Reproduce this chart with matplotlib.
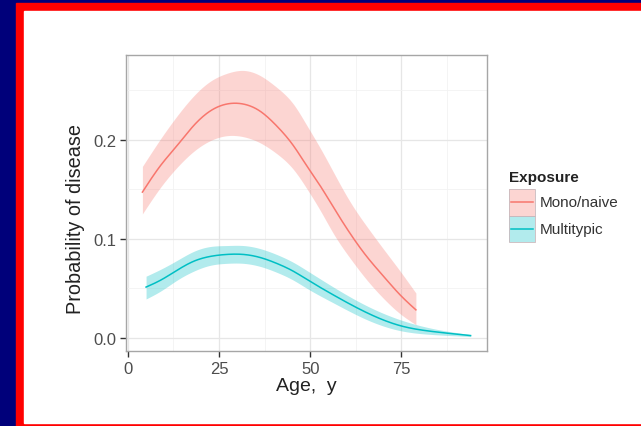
import matplotlib
matplotlib.use("Agg")
import matplotlib.pyplot as plt
import numpy as np
from matplotlib.patches import Rectangle
from matplotlib.lines import Line2D

plt.rcParams['font.family'] = ['Liberation Sans', 'DejaVu Sans']

# Mono/naive series
mono_age = [4, 9, 13.5, 18, 22.6, 27.1, 31.7, 36.2, 40.8, 45.4, 49, 53, 56, 61, 65.5, 70.1, 74.7, 79]
mono_mean = [0.147, 0.174, 0.194, 0.214, 0.229, 0.236, 0.236, 0.229, 0.214, 0.194, 0.174, 0.152, 0.134, 0.105, 0.082, 0.062, 0.043, 0.028]
mono_upper_age = [4, 9, 13.5, 18, 22.6, 27.1, 31.7, 36.2, 40.8, 45.4, 49, 53, 57, 61, 65.6, 70, 74.7, 79]
mono_upper = [0.173, 0.201, 0.224, 0.244, 0.259, 0.267, 0.270, 0.265, 0.253, 0.236, 0.215, 0.190, 0.163, 0.137, 0.112, 0.090, 0.067, 0.045]
mono_lower_age = [4, 9, 13.5, 18, 22.6, 27.1, 31.7, 36.2, 40.8, 45.4, 49, 53, 56.4, 61, 65.6, 70, 74.7, 79]
mono_lower = [0.125, 0.152, 0.172, 0.188, 0.199, 0.204, 0.203, 0.197, 0.186, 0.170, 0.151, 0.127, 0.105, 0.080, 0.058, 0.040, 0.024, 0.013]

# Multitypic series
multi_age = [5, 9, 13.5, 18, 22.6, 27.1, 31.7, 36.2, 40.8, 45.4, 49, 56.4, 65.6, 74.7, 83.8, 94]
multi_mean = [0.051, 0.058, 0.068, 0.077, 0.082, 0.084, 0.084, 0.081, 0.075, 0.067, 0.059, 0.043, 0.025, 0.012, 0.006, 0.002]
multi_upper = [0.062, 0.069, 0.078, 0.087, 0.092, 0.093, 0.093, 0.090, 0.084, 0.076, 0.068, 0.051, 0.032, 0.018, 0.009, 0.003]
multi_lower = [0.039, 0.047, 0.058, 0.067, 0.073, 0.075, 0.075, 0.072, 0.066, 0.058, 0.050, 0.035, 0.018, 0.007, 0.003, 0.001]

x_ticks = [0, 25, 50, 75]
y_ticks = [0.0, 0.1, 0.2]
y_ticklabels = ["0.0", "0.1", "0.2"]
series_names = ["Mono/naive", "Multitypic"]

red = "#F8766D"
teal = "#00BFC4"

fig = plt.figure(figsize=(6.41, 4.27), dpi=100)
W, H = 641, 427

# slide background
fig.patches.append(Rectangle((0, 0), 1, 1, transform=fig.transFigure, color="#00007A", zorder=-10))
fig.patches.append(Rectangle((16 / W, 0), 1, 1 - 4 / H, transform=fig.transFigure, color="#FF0000", zorder=-9))
fig.patches.append(Rectangle((24 / W, 3 / H), 1, 1 - 15 / H, transform=fig.transFigure, color="white", zorder=-8))

ax = fig.add_axes([126 / W, 1 - 352 / H, (487 - 126) / W, (352 - 56) / H])


def spline(x, y, xs):
    """Natural cubic spline through the read points, evaluated at xs."""
    x = np.asarray(x, float)
    y = np.asarray(y, float)
    m = len(x)
    h = np.diff(x)
    A = np.zeros((m, m))
    b = np.zeros(m)
    A[0, 0] = A[-1, -1] = 1
    for i in range(1, m - 1):
        A[i, i - 1] = h[i - 1]
        A[i, i] = 2 * (h[i - 1] + h[i])
        A[i, i + 1] = h[i]
        b[i] = 6 * ((y[i + 1] - y[i]) / h[i] - (y[i] - y[i - 1]) / h[i - 1])
    M = np.linalg.solve(A, b)
    idx = np.clip(np.searchsorted(x, xs) - 1, 0, m - 2)
    x0, x1 = x[idx], x[idx + 1]
    hh = x1 - x0
    t0 = x1 - xs
    t1 = xs - x0
    return (M[idx] * t0 ** 3 / (6 * hh) + M[idx + 1] * t1 ** 3 / (6 * hh)
            + (y[idx] / hh - M[idx] * hh / 6) * t0
            + (y[idx + 1] / hh - M[idx + 1] * hh / 6) * t1)


series = [
    (mono_age, mono_mean, mono_upper_age, mono_upper, mono_lower_age, mono_lower, red),
    (multi_age, multi_mean, multi_age, multi_upper, multi_age, multi_lower, teal),
]
for age, mean, uage, up, lage, lo, col in series:
    xs = np.linspace(age[0], age[-1], 300)
    m = spline(age, mean, xs)
    u = spline(uage, up, xs)
    l = spline(lage, lo, xs)
    ax.fill_between(xs, l, u, color=col, alpha=0.3, linewidth=0, zorder=2)
    ax.plot(xs, m, color=col, linewidth=1.1, zorder=3)

ax.set_xlim(-0.5, 98.5)
ax.set_ylim(-0.0136, 0.2856)
ax.set_xticks(x_ticks)
ax.set_xticks([12.5, 37.5, 62.5, 87.5], minor=True)
ax.set_yticks(y_ticks)
ax.set_yticklabels(y_ticklabels)
ax.set_yticks([0.05, 0.15, 0.25], minor=True)
ax.grid(True, which="major", color="#E6E6E6", linewidth=0.9, zorder=0)
ax.grid(True, which="minor", color="#F2F2F2", linewidth=0.6, zorder=0)
ax.set_axisbelow(True)
for s in ax.spines.values():
    s.set_color("#A6A6A6")
    s.set_linewidth(1.0)
ax.tick_params(which="major", length=4, width=1.0, color="#333333", labelsize=12, labelcolor="#4D4D4D", pad=3)
ax.tick_params(which="minor", length=0)

ax.set_xlabel("Age,  y", fontsize=14, color="#222222", labelpad=1)
ax.set_ylabel("Probability of disease", fontsize=14.3, color="#222222")
ax.yaxis.set_label_coords(-0.113, 0.45)

# legend drawn in figure pixel coordinates (y measured from top)
def fx(px):
    return px / W

def fy(py):
    return 1 - py / H

fig.text(fx(509), fy(178), "Exposure", fontsize=11, fontweight="bold", color="#222222",
         ha="left", va="center")
key_top = [190, 216.5]
key_h = 26.5
for top, name, col in zip(key_top, series_names, [red, teal]):
    fig.patches.append(Rectangle((fx(509), fy(top + key_h)), fx(26), key_h / H,
                                 transform=fig.transFigure, facecolor=col, alpha=0.3,
                                 edgecolor="none", zorder=1))
    fig.patches.append(Rectangle((fx(509), fy(top + key_h)), fx(26), key_h / H,
                                 transform=fig.transFigure, facecolor="none",
                                 edgecolor="#C8B8BC", linewidth=0.6, zorder=2))
    fig.lines.append(Line2D([fx(511), fx(533)], [fy(top + key_h / 2)] * 2,
                            transform=fig.transFigure, color=col, linewidth=1.1, zorder=3))
    fig.text(fx(540), fy(top + key_h / 2), name, fontsize=11, color="#333333",
             ha="left", va="center")

fig.savefig("out.png", dpi=100)
